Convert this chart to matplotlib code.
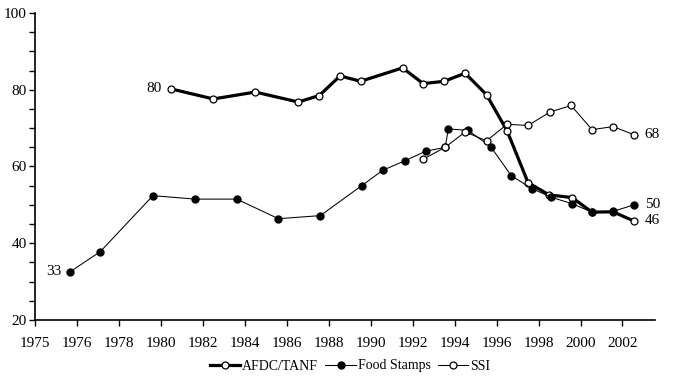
import matplotlib
matplotlib.use("Agg")
import matplotlib.pyplot as plt
from matplotlib.ticker import MultipleLocator

# Participation rates (%)
afdc_years = [1980.5, 1982.5, 1984.5, 1986.55, 1987.55, 1988.54, 1989.52, 1991.52,
              1992.5, 1993.5, 1994.5, 1995.52, 1996.5, 1997.5, 1998.5, 1999.6,
              2000.55, 2001.55, 2002.54]
afdc_rate = [80.2, 77.6, 79.4, 76.8, 78.5, 83.6, 82.2, 85.7,
             81.6, 82.2, 84.3, 78.7, 69.3, 55.8, 52.6, 51.9,
             48.1, 48.2, 45.8]

food_years = [1975.68, 1977.11, 1979.62, 1981.64, 1983.62, 1985.6, 1987.6, 1989.57,
              1990.57, 1991.63, 1992.63, 1993.55, 1993.7, 1994.65, 1995.73, 1996.7,
              1997.7, 1998.6, 1999.6, 2000.55, 2001.55, 2002.54]
food_rate = [32.6, 37.8, 52.4, 51.5, 51.5, 46.4, 47.2, 55.0,
             59.0, 61.5, 64.0, 65.0, 69.8, 69.4, 65.1, 57.6,
             54.2, 52.0, 50.3, 48.1, 48.3, 50.0]

ssi_years = [1992.5, 1993.55, 1994.5, 1995.52, 1996.5, 1997.5, 1998.55, 1999.55,
             2000.55, 2001.55, 2002.54]
ssi_rate = [61.9, 65.0, 69.0, 66.7, 71.0, 70.7, 74.2, 75.9, 69.6, 70.4, 68.3]

x_ticks = [1974, 1976, 1978, 1980, 1982, 1984, 1986, 1988, 1990, 1992, 1994,
           1996, 1998, 2000, 2002]
x_tick_labels = ["1975", "1976", "1978", "1980", "1982", "1984", "1986", "1988",
                 "1990", "1992", "1994", "1996", "1998", "2000", "2002"]

plt.rcParams['font.family'] = ['Liberation Serif', 'DejaVu Serif']

fig = plt.figure(figsize=(6.82, 3.86), dpi=100)
ax = fig.add_axes([35 / 682, 1 - 320 / 386, 620 / 682, 307 / 386])

ms = 5
ax.plot(afdc_years, afdc_rate, '-', color='black', linewidth=2.3, marker='o',
        markersize=ms, markerfacecolor='white', markeredgecolor='black',
        markeredgewidth=0.9, label='AFDC/TANF', zorder=2)
ax.plot(food_years, food_rate, '-', color='black', linewidth=0.75, marker='o',
        markersize=ms, markerfacecolor='black', markeredgecolor='black',
        label='Food Stamps', zorder=3)
ax.plot(ssi_years, ssi_rate, '-', color='black', linewidth=0.75, marker='o',
        markersize=ms, markerfacecolor='white', markeredgecolor='black',
        markeredgewidth=0.9, label='SSI', zorder=4)

# End labels
fs = 11
ax.text(afdc_years[0] - 0.45, afdc_rate[0], "80", ha='right', va='center', fontsize=fs)
ax.text(food_years[0] - 0.4, food_rate[0], "33", ha='right', va='center', fontsize=fs)
ax.text(ssi_years[-1] + 0.52, ssi_rate[-1], "68", ha='left', va='center', fontsize=fs)
ax.text(food_years[-1] + 0.52, food_rate[-1], "50", ha='left', va='center', fontsize=fs)
ax.text(afdc_years[-1] + 0.52, afdc_rate[-1], "46", ha='left', va='center', fontsize=fs)

ax.set_xlim(1974, 2003.55)
ax.set_ylim(20, 100)
ax.set_xticks(x_ticks)
ax.set_xticklabels(x_tick_labels)
ax.set_yticks([20, 40, 60, 80, 100])
ax.yaxis.set_minor_locator(MultipleLocator(5))
ax.tick_params(axis='both', which='major', labelsize=11, direction='out',
               length=4, width=1)
ax.tick_params(axis='x', which='major', pad=8)
ax.tick_params(axis='y', which='major', pad=2)
ax.tick_params(axis='y', which='minor', direction='out', length=4, width=1)
ax.spines['top'].set_visible(False)
ax.spines['right'].set_visible(False)
for s in ('left', 'bottom'):
    ax.spines[s].set_linewidth(1.2)

fig.legend(loc='center', bbox_to_anchor=(350 / 682, 1 - 366 / 386), ncol=3,
           frameon=False, fontsize=10, handlelength=2.2, handletextpad=0.15,
           columnspacing=0.5)

fig.savefig("out.png", dpi=100)
